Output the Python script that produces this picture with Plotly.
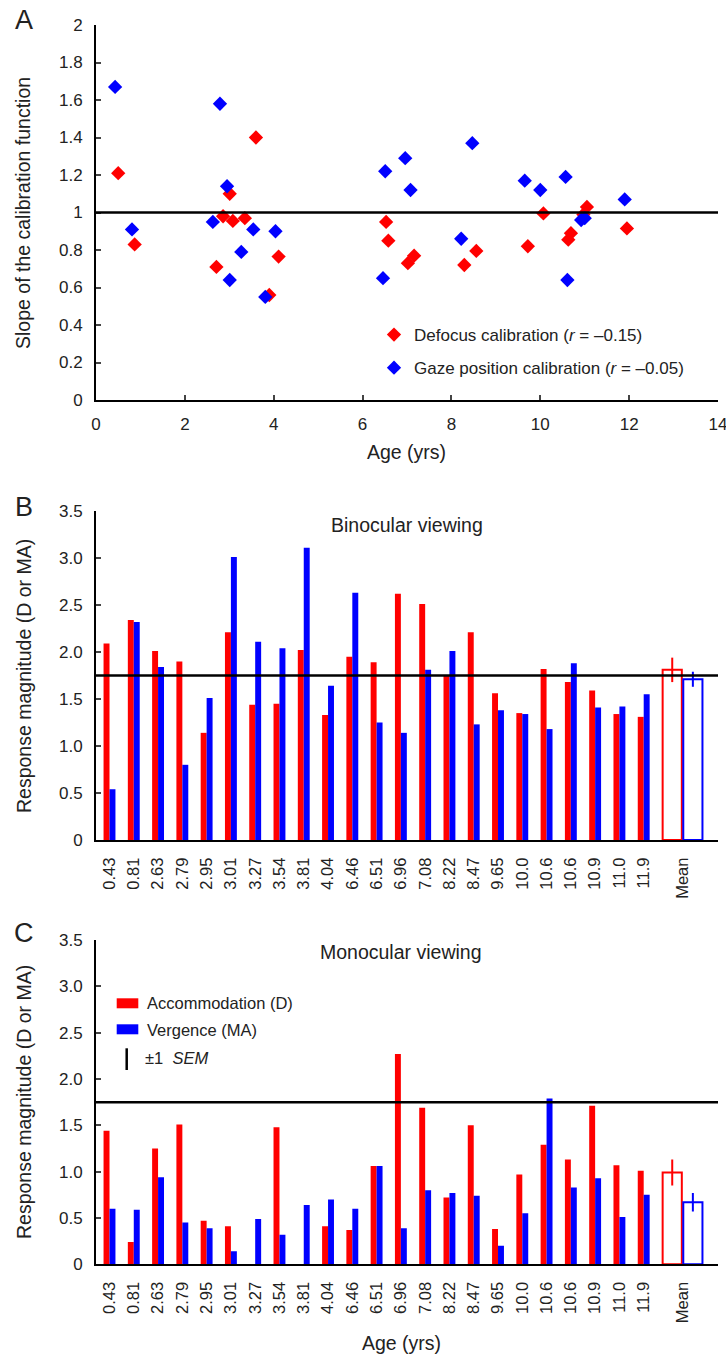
import plotly.graph_objects as go

W, H = 726, 1355
FONT = "Liberation Sans, Arial, Helvetica, sans-serif"
RED = "#ff0000"
BLUE = "#0000ff"


def px(x):
    return x / W


def py(y):
    return 1 - y / H


# ---------------- Panel A: calibration slopes vs age ----------------
defocus_age = [0.50, 0.87, 2.71, 2.86, 3.01, 3.08, 3.35, 3.60, 3.90, 4.11, 6.53, 6.58,
               7.02, 7.16, 8.29, 8.56, 9.72, 10.07, 10.63, 10.69, 10.97, 11.05, 11.95]
defocus_slope = [1.21, 0.83, 0.71, 0.98, 1.10, 0.955, 0.97, 1.40, 0.56, 0.765, 0.95, 0.85,
                 0.73, 0.77, 0.72, 0.795, 0.82, 0.995, 0.855, 0.89, 0.99, 1.03, 0.915]
gaze_age = [0.43, 0.81, 2.63, 2.79, 2.95, 3.01, 3.27, 3.54, 3.81, 4.04, 6.46, 6.51,
            6.96, 7.08, 8.22, 8.47, 9.65, 10.0, 10.57, 10.61, 10.92, 11.0, 11.9]
gaze_slope = [1.67, 0.91, 0.95, 1.58, 1.14, 0.64, 0.79, 0.91, 0.55, 0.90, 0.65, 1.22,
              1.29, 1.12, 0.86, 1.37, 1.17, 1.12, 1.19, 0.64, 0.96, 0.97, 1.07]

# ---------------- Panels B and C: response magnitudes ----------------
age_labels = ["0.43", "0.81", "2.63", "2.79", "2.95", "3.01", "3.27", "3.54", "3.81",
              "4.04", "6.46", "6.51", "6.96", "7.08", "8.22", "8.47", "9.65", "10.0",
              "10.6", "10.6", "10.9", "11.0", "11.9"]

bino_acc = [2.09, 2.34, 2.01, 1.90, 1.14, 2.21, 1.44, 1.45, 2.02, 1.33, 1.95, 1.89,
            2.62, 2.51, 1.75, 2.21, 1.56, 1.35, 1.82, 1.68, 1.59, 1.34, 1.31]
bino_verg = [0.54, 2.32, 1.84, 0.80, 1.51, 3.01, 2.11, 2.04, 3.11, 1.64, 2.63, 1.25,
             1.14, 1.81, 2.01, 1.23, 1.38, 1.34, 1.18, 1.88, 1.41, 1.42, 1.55]
bino_mean = [1.81, 1.71]
bino_sem = [0.13, 0.08]

mono_acc = [1.44, 0.24, 1.25, 1.51, 0.47, 0.41, 0.0, 1.48, 0.0, 0.41, 0.37, 1.06,
            2.27, 1.69, 0.72, 1.50, 0.38, 0.97, 1.29, 1.13, 1.71, 1.07, 1.01]
mono_verg = [0.60, 0.59, 0.94, 0.45, 0.39, 0.14, 0.49, 0.32, 0.64, 0.70, 0.60, 1.06,
             0.39, 0.80, 0.77, 0.74, 0.20, 0.55, 1.79, 0.83, 0.93, 0.51, 0.75]
mono_mean = [0.99, 0.67]
mono_sem = [0.14, 0.10]

reference_level = 1.75
positions = list(range(len(age_labels)))
mean_pos = 23.6

fig = go.Figure()

# Panel A scatter
fig.add_trace(go.Scatter(
    x=defocus_age, y=defocus_slope, mode="markers", xaxis="x", yaxis="y",
    marker=dict(symbol="diamond", size=11, color=RED, line=dict(width=0)),
    name="Defocus calibration (<i>r</i> = \u20130.15)", legendgroup="d", showlegend=True))
fig.add_trace(go.Scatter(
    x=gaze_age, y=gaze_slope, mode="markers", xaxis="x", yaxis="y",
    marker=dict(symbol="diamond", size=11, color=BLUE, line=dict(width=0)),
    name="Gaze position calibration (<i>r</i> = \u20130.05)", legendgroup="g", showlegend=True))


def add_bar_panel(xa, ya, acc, verg, mean, sem):
    fig.add_trace(go.Bar(x=positions, y=acc, xaxis=xa, yaxis=ya, offset=-0.245, width=0.245,
                         marker=dict(color=RED, line=dict(width=0)), showlegend=False))
    fig.add_trace(go.Bar(x=positions, y=verg, xaxis=xa, yaxis=ya, offset=0.0, width=0.245,
                         marker=dict(color=BLUE, line=dict(width=0)), showlegend=False))
    for i, col in enumerate([RED, BLUE]):
        fig.add_trace(go.Bar(
            x=[mean_pos], y=[mean[i]], xaxis=xa, yaxis=ya,
            offset=-0.82 if i == 0 else 0.03, width=0.79,
            marker=dict(color="rgba(255,255,255,0)", line=dict(color=col, width=2)),
            error_y=dict(type="data", array=[sem[i]], color=col, thickness=2, width=0),
            showlegend=False))


add_bar_panel("x2", "y2", bino_acc, bino_verg, bino_mean, bino_sem)
add_bar_panel("x3", "y3", mono_acc, mono_verg, mono_mean, mono_sem)

XDOM = [px(96), px(718)]
axis_common = dict(showline=True, linecolor="black", linewidth=2, showgrid=False,
                   zeroline=False, automargin=False,
                   tickfont=dict(size=17, color="#222", family=FONT))

bar_x = dict(axis_common, range=[-0.556, 25.06], domain=XDOM, ticks="", tickangle=-90,
             tickvals=positions + [mean_pos], ticktext=age_labels + ["Mean"],
             ticklabelstandoff=9, tickfont=dict(size=16.5, color="#222", family=FONT))
bar_y = dict(axis_common, range=[0, 3.5], ticks="inside", ticklen=5, tickwidth=1.5,
             tickvals=[0, 0.5, 1, 1.5, 2, 2.5, 3, 3.5],
             ticktext=["0", "0.5", "1.0", "1.5", "2.0", "2.5", "3.0", "3.5"],
             ticklabelstandoff=8)

fig.update_layout(
    width=W, height=H, margin=dict(l=0, r=0, t=0, b=0, autoexpand=False),
    paper_bgcolor="white", plot_bgcolor="white",
    font=dict(family=FONT, color="#222"),
    barmode="overlay",
    xaxis=dict(axis_common, domain=XDOM, range=[0, 14], anchor="y",
               ticks="inside", ticklen=5, tickwidth=1.5, ticklabeloverflow="allow",
               tickvals=list(range(0, 15, 2)), ticklabelstandoff=8),
    yaxis=dict(axis_common, domain=[py(400), py(25)], range=[0, 2], anchor="x",
               ticks="inside", ticklen=5, tickwidth=1.5,
               tickvals=[0, 0.2, 0.4, 0.6, 0.8, 1, 1.2, 1.4, 1.6, 1.8, 2],
               ticktext=["0", "0.2", "0.4", "0.6", "0.8", "1", "1.2", "1.4", "1.6", "1.8", "2"],
               ticklabelstandoff=8),
    xaxis2=dict(bar_x, anchor="y2"),
    yaxis2=dict(bar_y, domain=[py(840), py(511)], anchor="x2"),
    xaxis3=dict(bar_x, anchor="y3"),
    yaxis3=dict(bar_y, domain=[py(1264.3), py(940)], anchor="x3"),
    legend=dict(x=px(374), y=py(317), xanchor="left", yanchor="top",
                bgcolor="rgba(0,0,0,0)", font=dict(size=17, family=FONT, color="#222"),
                tracegroupgap=8, itemwidth=30),
)

# reference lines
fig.add_shape(type="line", xref="x domain", yref="y", x0=0, x1=1, y0=1, y1=1,
              line=dict(color="black", width=2.5))
for ax in ("2", "3"):
    fig.add_shape(type="line", xref=f"x{ax} domain", yref=f"y{ax}", x0=0, x1=1,
                  y0=reference_level, y1=reference_level, line=dict(color="black", width=2.5))

# legend for the bar panels
fig.add_shape(type="rect", xref="paper", yref="paper", x0=px(116.7), x1=px(138.3),
              y0=py(1008.3), y1=py(998.3), fillcolor=RED, line=dict(width=0))
fig.add_shape(type="rect", xref="paper", yref="paper", x0=px(116.7), x1=px(138.3),
              y0=py(1034.3), y1=py(1024.3), fillcolor=BLUE, line=dict(width=0))
fig.add_shape(type="line", xref="paper", yref="paper", x0=px(126.7), x1=px(126.7),
              y0=py(1070), y1=py(1048.3), line=dict(color="black", width=2.5))


def label(x, y, text, size, anchor="center", angle=0):
    fig.add_annotation(x=px(x), y=py(y), xref="paper", yref="paper", text=text,
                       showarrow=False, xanchor=anchor, yanchor="middle", textangle=angle,
                       font=dict(size=size, family=FONT, color="#222"))


label(145, 1003.3, "Accommodation (D)", 16.5, "left")
label(145, 1030, "Vergence (MA)", 16.5, "left")
label(143.3, 1058.3, "\u00b11\u00a0\u00a0<i>SEM</i>", 16.5, "left")

# panel letters
label(24, 20, "A", 27)
label(24, 507, "B", 27)
label(24, 933, "C", 27)

# axis titles
label(23, 213, "Slope of the calibration function", 19.5, angle=-90)
label(24, 676, "Response magnitude (D or MA)", 19.5, angle=-90)
label(24, 1102, "Response magnitude (D or MA)", 19.5, angle=-90)
label(406.7, 451.7, "Age (yrs)", 19.5)
label(401.7, 1342.7, "Age (yrs)", 19.5)

# panel headings
label(406.5, 525, "Binocular viewing", 19.5)
label(400.5, 951.7, "Monocular viewing", 19.5)

fig.write_html("out.html")
